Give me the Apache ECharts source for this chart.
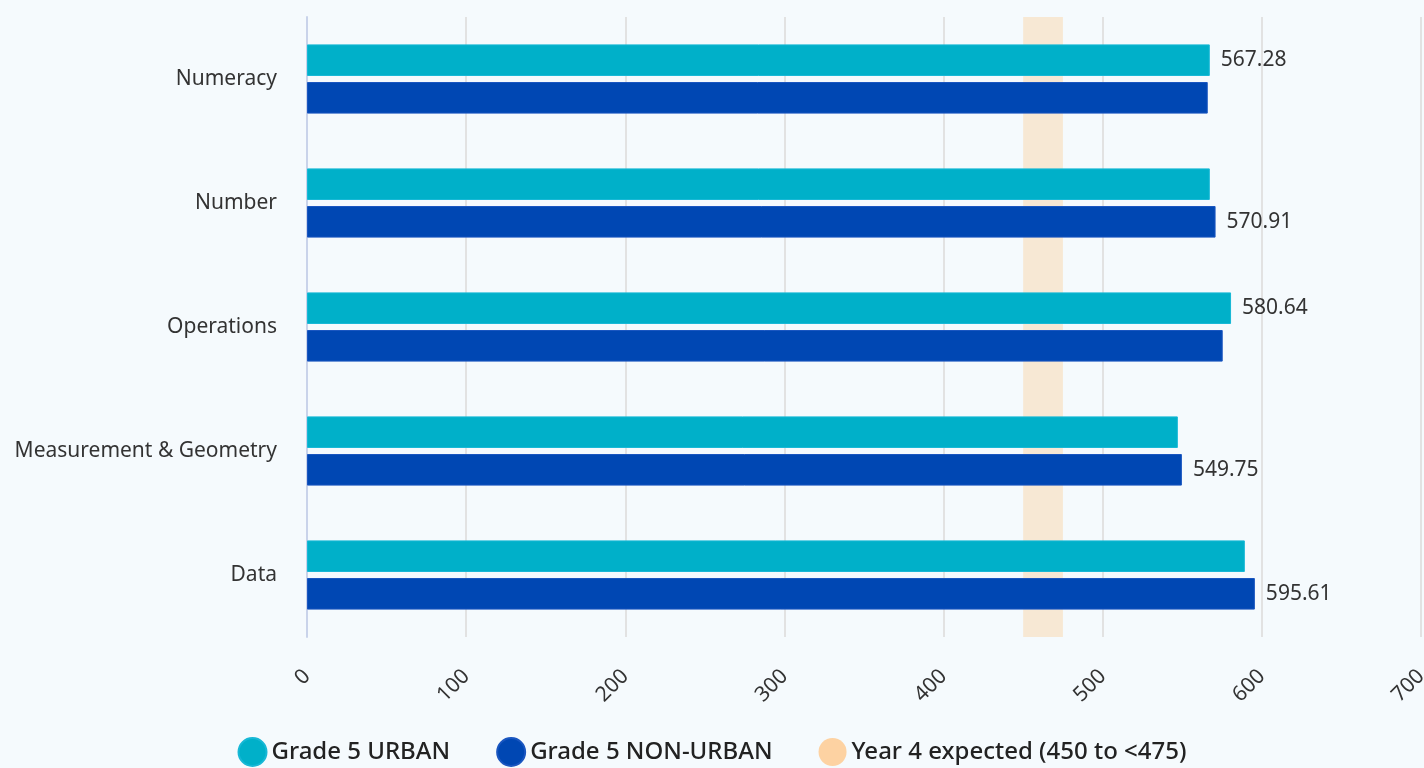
<!DOCTYPE html>
<html>
<head>
<meta charset="utf-8">
<script src="https://cdn.jsdelivr.net/npm/echarts@6/dist/echarts.min.js"></script>
<style>
html,body{margin:0;padding:0;background:#f5fafd;}
#c{width:1424px;height:768px;}
</style>
</head>
<body>
<div id="c"></div>
<script>
const categories = ['Numeracy', 'Number', 'Operations', 'Measurement & Geometry', 'Data'];
const urban = [567.28, 567.3, 580.64, 547.2, 589.3];
const nonUrban = [566.0, 570.91, 575.4, 549.75, 595.61];
const seriesNames = ['Grade 5 URBAN', 'Grade 5 NON-URBAN', 'Year 4 expected (450 to <475)'];
const bandRange = [450, 475];
const xTicks = [0, 100, 200, 300, 400, 500, 600, 700];

const font = '"Noto Sans", "Open Sans", sans-serif';
function labelFor(own, other) {
  return {
    show: true, position: 'right', distance: 11,
    fontFamily: font, fontSize: 21, color: '#333',
    formatter: p => (own[p.dataIndex] >= other[p.dataIndex] ? own[p.dataIndex].toFixed(2) : '')
  };
}
const chart = echarts.init(document.getElementById('c'));
chart.setOption({
  backgroundColor: '#f5fafd',
  animation: false,
  textStyle: { fontFamily: font },
  grid: { left: 307, right: 3, top: 17, bottom: 131, containLabel: false, outerBoundsMode: 'none' },
  legend: {
    top: 732, left: 'center', icon: 'circle', itemWidth: 28, itemHeight: 28, itemGap: 46,
    textStyle: { fontFamily: font, fontSize: 24, fontWeight: 500, color: '#222' },
    data: seriesNames
  },
  xAxis: {
    type: 'value', min: xTicks[0], max: xTicks[xTicks.length - 1], interval: 100,
    axisLine: { show: false }, axisTick: { show: false },
    splitLine: { show: true, lineStyle: { color: '#e2e2e2', width: 2 } },
    axisLabel: { rotate: 45, fontSize: 21, color: '#333', fontFamily: font, margin: 36 }
  },
  yAxis: {
    type: 'category', data: categories, inverse: true,
    axisLine: { show: true, lineStyle: { color: '#c9d3ea', width: 2 } },
    axisTick: { show: false },
    axisLabel: { fontSize: 21, color: '#333', fontFamily: font, margin: 30 }
  },
  series: [
    {
      name: seriesNames[0], type: 'bar', data: urban, barWidth: '25.5%', barGap: '19%',
      itemStyle: { color: '#00b0c9', borderColor: '#17b8d6', borderWidth: 1 },
      label: labelFor(urban, nonUrban)
    },
    {
      name: seriesNames[1], type: 'bar', data: nonUrban, barWidth: '25.5%', barGap: '19%',
      itemStyle: { color: '#0047b3', borderColor: '#1a56c0', borderWidth: 1 },
      label: labelFor(nonUrban, urban)
    },
    {
      name: seriesNames[2], type: 'line', data: [], z: 1,
      itemStyle: { color: '#fdd2a2' }, lineStyle: { color: '#fdd2a2' },
      markArea: {
        silent: true,
        itemStyle: { color: 'rgba(248,220,185,0.6)' },
        data: [[{ xAxis: bandRange[0] }, { xAxis: bandRange[1] }]]
      }
    }
  ]
});
</script>
</body>
</html>
